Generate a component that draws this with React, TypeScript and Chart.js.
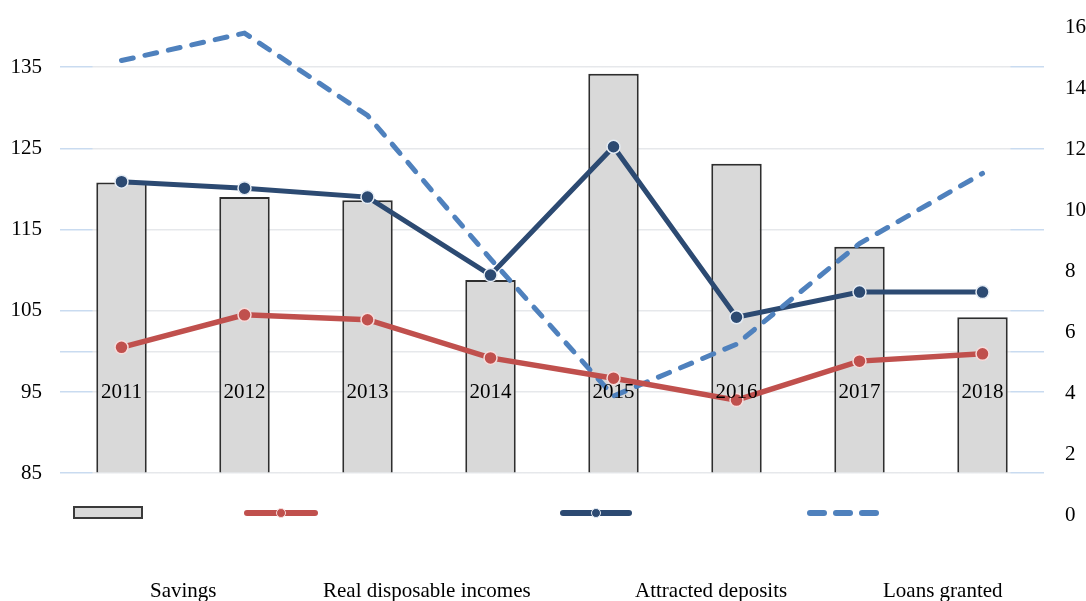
import React, { useEffect, useRef } from 'react';
import { Chart, registerables } from 'chart.js';

Chart.register(...registerables);

// Years on the category axis
const years = ['2011', '2012', '2013', '2014', '2015', '2016', '2017', '2018'];

// Index values, left axis
const savings = [120.8, 119.0, 118.6, 108.8, 134.2, 123.1, 112.9, 104.2];
const realIncomes = [100.5, 104.5, 103.9, 99.2, 96.7, 94.0, 98.8, 99.7];
const deposits = [120.9, 120.1, 119.0, 109.4, 125.2, 104.2, 107.3, 107.3];

// Loans granted, right axis
const loans = [14.9, 15.8, 13.1, 8.4, 3.9, 5.6, 8.9, 11.2];

// Axis ticks
const leftTicks = [85, 95, 105, 115, 125, 135];
const leftGrid = [85, 95, 100, 105, 115, 125, 135];
const rightTicks = [0, 2, 4, 6, 8, 10, 12, 14, 16];

const FONT = '"Liberation Serif", "Times New Roman", serif';
const NAVY = '#2c4a72';
const RED = '#c0504d';
const BLUE = '#4f81bd';

const W = 1086;
const H = 601;

// Grid lines: pale blue at both ends, light grey across the middle
let gridGradient: CanvasGradient | null = null;
function gridColor(ctx: any) {
  const chart = ctx.chart;
  const area = chart.chartArea;
  if (!area) return '#e3e6ea';
  if (!gridGradient) {
    const g = chart.ctx.createLinearGradient(area.left, 0, area.right, 0);
    const a = 33 / (area.right - area.left);
    const b = 1 - 34 / (area.right - area.left);
    g.addColorStop(0, '#c9dbf0');
    g.addColorStop(a - 0.001, '#c9dbf0');
    g.addColorStop(a, '#e6e8eb');
    g.addColorStop(b, '#e6e8eb');
    g.addColorStop(b + 0.001, '#c9dbf0');
    g.addColorStop(1, '#c9dbf0');
    gridGradient = g;
  }
  return gridGradient;
}

export default function App() {
  const canvasRef = useRef<HTMLCanvasElement | null>(null);

  useEffect(() => {
    const canvas = canvasRef.current;
    if (!canvas) return;
    gridGradient = null;
    const chart = new Chart(canvas, {
      type: 'bar',
      data: {
        labels: years,
        datasets: [
          {
            type: 'bar',
            label: 'Savings',
            data: savings,
            yAxisID: 'y',
            base: 85,
            backgroundColor: '#d9d9d9',
            borderColor: '#2e2e2e',
            borderWidth: 2,
            barPercentage: 0.41,
            categoryPercentage: 1,
            order: 4,
          } as any,
          {
            type: 'line',
            label: 'Attracted deposits',
            data: deposits,
            yAxisID: 'y',
            borderColor: NAVY,
            backgroundColor: NAVY,
            borderWidth: 5,
            pointRadius: 6.5,
            pointBorderWidth: 1.5,
            pointBorderColor: '#e6edf5',
            pointBackgroundColor: NAVY,
            tension: 0,
            order: 3,
          },
          {
            type: 'line',
            label: 'Loans granted',
            data: loans,
            yAxisID: 'y1',
            borderColor: BLUE,
            borderWidth: 5,
            borderDash: [12, 12],
            borderCapStyle: 'round',
            pointRadius: 0,
            tension: 0,
            order: 2,
          },
          {
            type: 'line',
            label: 'Real disposable incomes',
            data: realIncomes,
            yAxisID: 'y',
            borderColor: RED,
            backgroundColor: RED,
            borderWidth: 5.5,
            pointRadius: 6.5,
            pointBorderWidth: 1.5,
            pointBorderColor: '#f7dcdb',
            pointBackgroundColor: RED,
            tension: 0,
            order: 1,
          },
        ],
      },
      options: {
        responsive: false,
        animation: false,
        devicePixelRatio: 1,
        layout: { padding: { left: 0, right: 0, top: 27, bottom: 86 } },
        plugins: {
          legend: { display: false },
          tooltip: { enabled: false },
        },
        scales: {
          x: {
            type: 'category',
            position: { y: 95 } as any,
            offset: true,
            grid: { display: false },
            border: { display: false },
            ticks: {
              z: 1,
              padding: -20,
              color: '#000',
              font: { family: FONT, size: 21 },
              maxRotation: 0,
              autoSkip: false,
            },
          },
          y: {
            type: 'linear',
            position: 'left',
            min: 79.85,
            max: 139.95,
            afterFit: (scale: any) => {
              scale.width = 60;
            },
            afterBuildTicks: (scale: any) => {
              scale.ticks = leftGrid.map((v) => ({ value: v }));
            },
            grid: {
              color: gridColor as any,
              lineWidth: 1.5,
              drawTicks: true,
              tickLength: 18,
              tickColor: 'rgba(0,0,0,0)',
            },
            border: { display: false },
            ticks: {
              padding: 0,
              color: '#000',
              font: { family: FONT, size: 21 },
              callback: (v: any) => (leftTicks.includes(Number(v)) ? String(v) : ''),
            },
          },
          y1: {
            type: 'linear',
            position: 'right',
            min: 0,
            max: 16,
            afterFit: (scale: any) => {
              scale.width = 42;
            },
            afterBuildTicks: (scale: any) => {
              scale.ticks = rightTicks.map((v) => ({ value: v }));
            },
            grid: { display: false, drawTicks: true, tickLength: 21 },
            border: { display: false },
            ticks: {
              padding: 0,
              color: '#000',
              font: { family: FONT, size: 21 },
            },
          },
        },
      },
    });
    return () => chart.destroy();
  }, []);

  const lineSwatch = (left: number, width: number, color: string, halo: string) => (
    <>
      <div
        style={{
          position: 'absolute',
          left,
          top: 510,
          width,
          height: 6,
          borderRadius: 3,
          background: color,
        }}
      />
      <div
        style={{
          position: 'absolute',
          left: left + width / 2 - 5,
          top: 508,
          width: 10,
          height: 10,
          borderRadius: 5,
          boxSizing: 'border-box',
          border: `1.5px solid ${halo}`,
          background: color,
        }}
      />
    </>
  );

  const labelStyle = (left: number): React.CSSProperties => ({
    position: 'absolute',
    left,
    top: 580,
    fontFamily: FONT,
    fontSize: 21,
    lineHeight: '21px',
    color: '#000',
    whiteSpace: 'nowrap',
  });

  return (
    <div
      style={{
        position: 'absolute',
        left: 0,
        top: 0,
        width: W,
        height: H,
        overflow: 'hidden',
        background: '#fff',
      }}
    >
      <canvas ref={canvasRef} width={W} height={H} style={{ display: 'block' }} />
      {/* legend swatches */}
      <div
        style={{
          position: 'absolute',
          left: 73,
          top: 506,
          width: 70,
          height: 13,
          boxSizing: 'border-box',
          background: '#d9d9d9',
          border: '2px solid #3a3a3a',
        }}
      />
      {lineSwatch(244, 74, RED, '#f7dcdb')}
      {lineSwatch(560, 72, NAVY, '#e6edf5')}
      {[807, 833, 859].map((x) => (
        <div
          key={x}
          style={{
            position: 'absolute',
            left: x,
            top: 510,
            width: 20,
            height: 6,
            borderRadius: 3,
            background: BLUE,
          }}
        />
      ))}
      {/* legend labels */}
      <div style={labelStyle(150)}>Savings</div>
      <div style={labelStyle(323)}>Real disposable incomes</div>
      <div style={labelStyle(635)}>Attracted deposits</div>
      <div style={labelStyle(883)}>Loans granted</div>
    </div>
  );
}
